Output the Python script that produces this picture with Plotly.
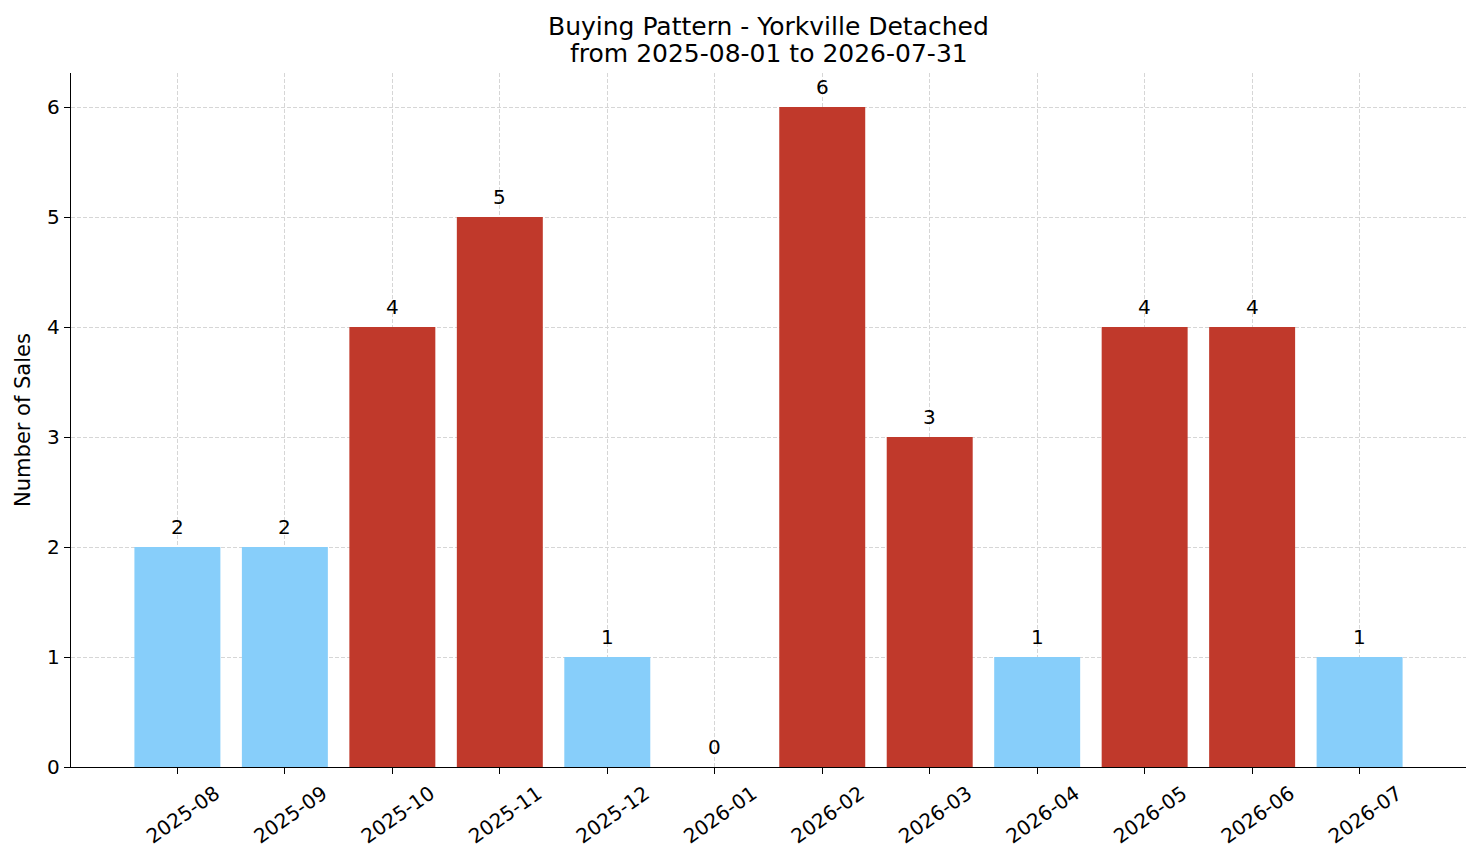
import plotly.graph_objects as go

months = ["2025-08", "2025-09", "2025-10", "2025-11", "2025-12", "2026-01",
          "2026-02", "2026-03", "2026-04", "2026-05", "2026-06", "2026-07"]
sales = [2, 2, 4, 5, 1, 0, 6, 3, 1, 4, 4, 1]
title_lines = ["Buying Pattern - Yorkville Detached", "from 2025-08-01 to 2026-07-31"]

# busy months (3+) in red, quiet ones in light blue
colors = ["#C0392B" if s >= 3 else "#87CEFA" for s in sales]
idx = list(range(len(months)))

font = "DejaVu Sans"

fig = go.Figure()
fig.add_trace(go.Bar(
    x=idx, y=sales, width=0.8,
    marker=dict(color=colors, line=dict(width=0)),
))

# value labels on top of each bar
for i, s in zip(idx, sales):
    fig.add_annotation(x=i, y=s, text=str(s), showarrow=False,
                       yanchor="bottom", yshift=6,
                       font=dict(family=font, size=20, color="black"))

# two-line title as annotations (tighter line spacing than layout.title)
for line, ypos in zip(title_lines, [1.0675, 1.0275]):
    fig.add_annotation(x=0.5, y=ypos, xref="paper", yref="paper", text=line,
                       showarrow=False, xanchor="center", yanchor="middle",
                       font=dict(family=font, size=25, color="black"))

# page body has an 8px margin, so the figure is a bit smaller than the window
fig.update_layout(
    width=1473, height=855,
    plot_bgcolor="white", paper_bgcolor="white",
    margin=dict(l=63, r=15, t=65, b=96),
    font=dict(family=font, size=20, color="black"),
    showlegend=False,
)
grid = dict(showgrid=True, gridcolor="#d6d6d6", griddash="4px,2px", gridwidth=0.8,
            layer="above traces", zeroline=False, automargin=False,
            showline=True, linecolor="black", linewidth=1.3,
            ticks="outside", ticklen=6, tickwidth=1.3, tickcolor="black",
            tickfont=dict(family=font, size=20, color="black"))
fig.update_xaxes(
    range=[-0.99, 11.99], tickmode="array", tickvals=idx, ticktext=months,
    tickangle=-35, ticklabelshift=38, **grid,
)
fig.update_yaxes(
    range=[0, 6.31], dtick=1,
    title=dict(text="Number of Sales", standoff=10, font=dict(family=font, size=21)),
    **grid,
)

fig.write_html("out.html")
